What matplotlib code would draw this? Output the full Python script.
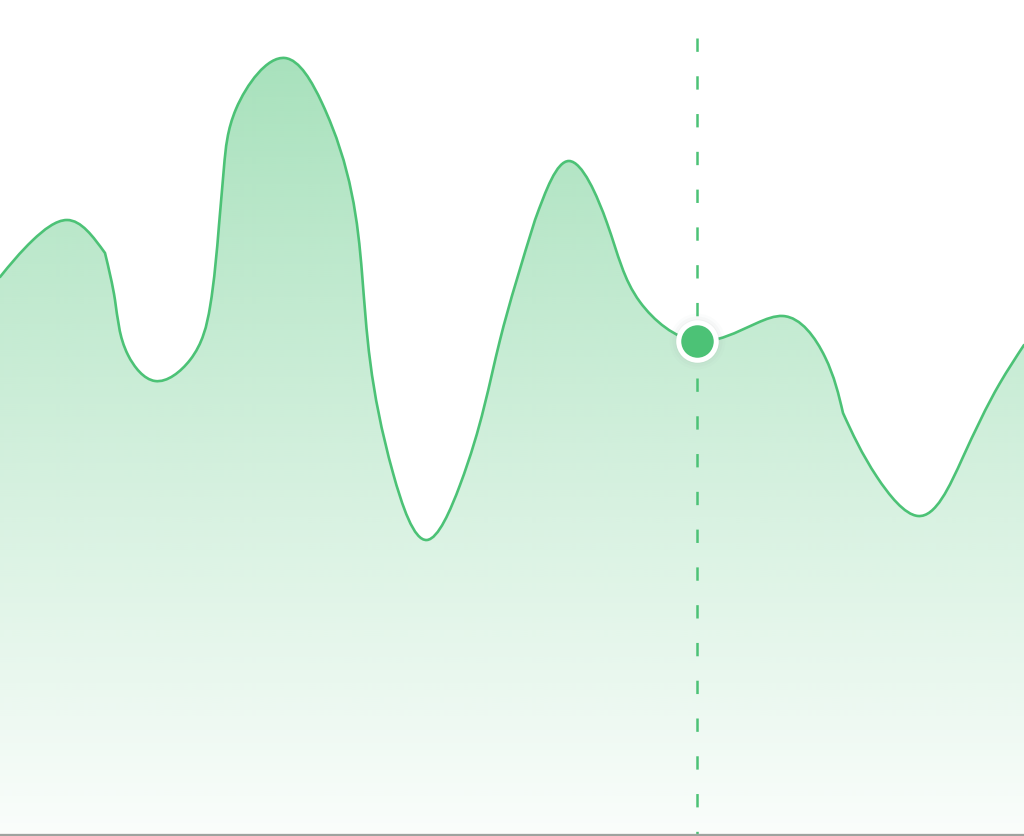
import numpy as np
import matplotlib
matplotlib.use("Agg")
import matplotlib.pyplot as plt
from matplotlib.path import Path
from matplotlib.patches import PathPatch

# values (x position, value above the baseline)
xs = [0, 33, 67, 105,
      115, 128, 155, 190, 210, 219,
      224, 236, 285, 322, 362, 393, 427, 460, 500, 535,
      569, 607, 640, 697, 757, 783, 825, 843,
      877, 918, 963,
      1000, 1024]
values = [556, 593, 613, 580,
          533, 478, 452, 473, 526, 608,
          666, 724, 775, 730, 560, 360, 293, 348, 493, 613,
          672, 610, 531, 492, 510, 517, 476, 420,
          356, 317, 376,
          450, 488]
# points where the line has a corner
corners = [105, 219, 535, 843, 963]

highlight_x = 697
highlight_value = 492

green = "#4cc276"
baseline_gray = "#9ea39f"

plt.rcParams["lines.scale_dashes"] = False


def natural_bezier(px, py):
    # parametric natural cubic spline (chord length), returned as bezier pieces
    P = np.column_stack([px, py]).astype(float)
    n = len(P)
    h = np.linalg.norm(np.diff(P, axis=0), axis=1)
    A = np.zeros((n, n))
    B = np.zeros((n, 2))
    A[0, 0] = A[-1, -1] = 1.0
    for i in range(1, n - 1):
        A[i, i - 1] = h[i - 1]
        A[i, i] = 2 * (h[i - 1] + h[i])
        A[i, i + 1] = h[i]
        B[i] = 6 * ((P[i + 1] - P[i]) / h[i] - (P[i] - P[i - 1]) / h[i - 1])
    M = np.linalg.solve(A, B)
    segs = []
    for i in range(n - 1):
        s = (P[i + 1] - P[i]) / h[i]
        d0 = s - h[i] * (2 * M[i] + M[i + 1]) / 6
        d1 = s + h[i] * (M[i] + 2 * M[i + 1]) / 6
        segs.append((P[i] + d0 * h[i] / 3, P[i + 1] - d1 * h[i] / 3, P[i + 1]))
    return segs


def build_path(px, py, breaks):
    px = list(px)
    cut = [0] + [px.index(b) for b in breaks] + [len(px) - 1]
    verts = [(px[0], py[0])]
    codes = [Path.MOVETO]
    for a, b in zip(cut[:-1], cut[1:]):
        for c1, c2, p in natural_bezier(px[a:b + 1], py[a:b + 1]):
            verts += [tuple(c1), tuple(c2), tuple(p)]
            codes += [Path.CURVE4] * 3
    return verts, codes


fig = plt.figure(figsize=(10.24, 8.36), dpi=100)
ax = fig.add_axes([0, 0, 1, 1])
ax.set_xlim(0, 1024)
ax.set_ylim(-3, 833)
ax.axis("off")

verts, codes = build_path(xs, values, corners)

# gradient fill under the curve
fill_verts = list(verts) + [(xs[-1], 0), (xs[0], 0), verts[0]]
fill_codes = list(codes) + [Path.LINETO, Path.LINETO, Path.CLOSEPOLY]
fill_patch = PathPatch(Path(fill_verts, fill_codes), facecolor="none", edgecolor="none")
ax.add_patch(fill_patch)

rgb = np.array(matplotlib.colors.to_rgb(green))
grad = np.ones((400, 1, 4))
grad[..., :3] = rgb
grad[..., 3] = np.linspace(0.03, 0.50, 400)[:, None]
img = ax.imshow(grad, extent=[0, 1024, 0, 800], origin="lower", aspect="auto",
                interpolation="bicubic", zorder=1)
img.set_clip_path(fill_patch)

line = PathPatch(Path(verts, codes), facecolor="none", edgecolor=green, lw=1.9,
                 zorder=3, capstyle="round", joinstyle="round")
ax.add_patch(line)

# baseline
ax.axhline(-1.5, color=baseline_gray, lw=2.4, zorder=4)

# hover guide
ax.plot([highlight_x, highlight_x], [795, -3], color=green, lw=1.8,
        linestyle=(0, (9.6, 17.6)), dash_capstyle="butt", zorder=2)

# soft shadow behind the marker
for s, a in [(40, 0.025), (36, 0.035), (32, 0.05)]:
    ax.plot(highlight_x, highlight_value, "o", ms=s, color="#7a8a80", alpha=a,
            mec="none", zorder=4)
ax.plot(highlight_x, highlight_value, "o", ms=27, color=green, mec="white",
        mew=3.6, zorder=5)

fig.savefig("out.png", dpi=100)
